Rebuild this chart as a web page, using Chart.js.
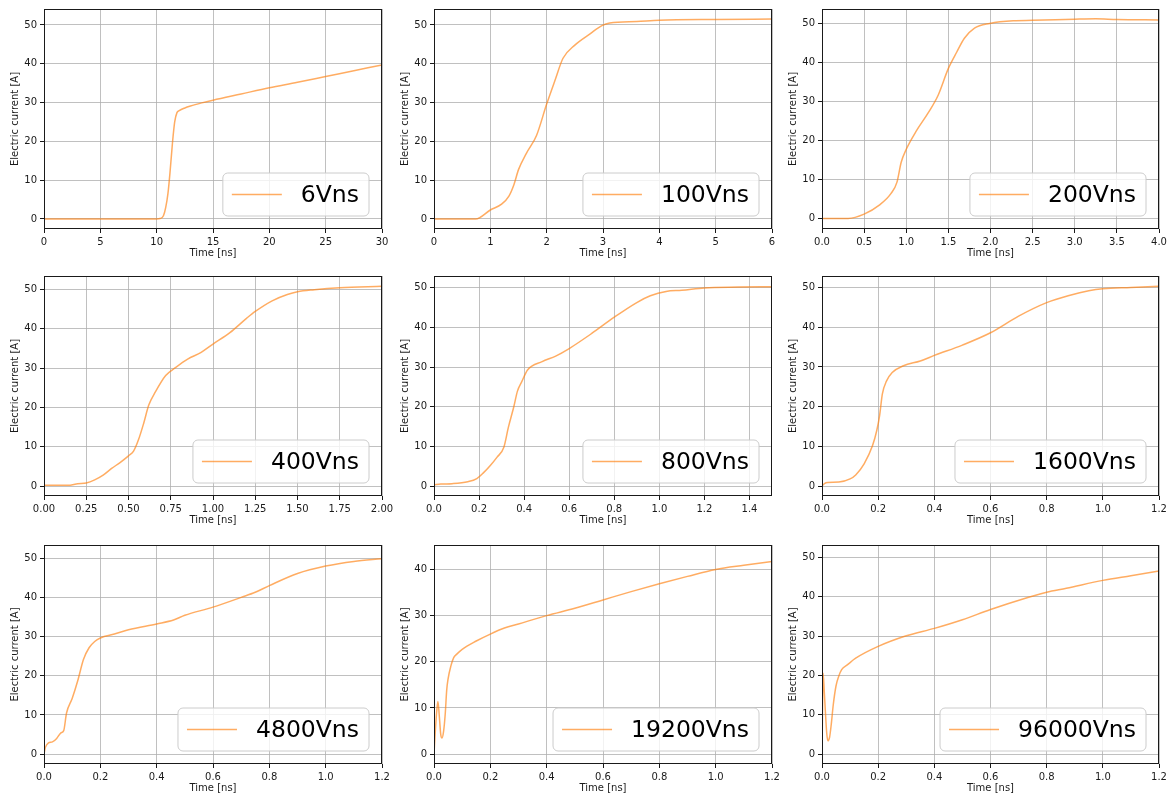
<!DOCTYPE html>
<html>
<head>
<meta charset="utf-8">
<title>Electric current vs time</title>
<script src="https://cdn.jsdelivr.net/npm/chart.js@4/dist/chart.umd.min.js"></script>
<style>
  html, body { margin: 0; padding: 0; background: #fff; overflow: hidden; }
  #grid { position: relative; width: 1175px; height: 798px; }
  #grid canvas { position: absolute; }
</style>
</head>
<body>
<div id="grid"></div>
<script>
// current traces, one pair of arrays per ramp rate
const time6Vns = [0, 10.0, 10.3, 10.6, 10.8, 11.0, 11.2, 11.4, 11.6, 11.8, 12.0, 12.5, 13.0, 14.0, 15.0, 17.5, 20.0, 22.5, 25.0, 27.5, 30.0];
const current6Vns = [0, 0, 0.1, 0.8, 2.9, 6.5, 12.5, 19.5, 25.0, 27.4, 27.9, 28.6, 29.1, 29.9, 30.6, 32.2, 33.8, 35.2, 36.7, 38.2, 39.7];

const time100Vns = [0, 0.74, 1.0, 1.2, 1.33, 1.42, 1.5, 1.64, 1.82, 2.0, 2.15, 2.29, 2.5, 2.77, 2.98, 3.12, 3.6, 4.0, 5.0, 6.0];
const current100Vns = [0, 0, 2.3, 3.8, 5.9, 8.9, 12.7, 16.9, 21.5, 29.6, 35.8, 41.4, 44.8, 47.7, 49.8, 50.5, 50.9, 51.2, 51.4, 51.5];

const time200Vns = [0, 0.31, 0.5, 0.68, 0.82, 0.89, 0.94, 1.0, 1.12, 1.26, 1.38, 1.5, 1.6, 1.69, 1.81, 1.99, 2.27, 2.5, 3.0, 3.25, 3.5, 4.0];
const current200Vns = [0.1, 0.1, 1.2, 3.5, 6.5, 9.4, 14.5, 17.8, 22.5, 27.1, 31.7, 38.5, 42.7, 46.2, 48.8, 50.0, 50.7, 50.8, 51.1, 51.2, 51.0, 50.9];

const time400Vns = [0, 0.14, 0.2, 0.25, 0.3, 0.35, 0.4, 0.45, 0.5, 0.53, 0.56, 0.59, 0.62, 0.66, 0.72, 0.78, 0.85, 0.93, 1.0, 1.1, 1.2, 1.25, 1.35, 1.44, 1.5, 1.6, 1.75, 2.0];
const current400Vns = [0.2, 0.2, 0.6, 0.8, 1.6, 2.8, 4.5, 6.0, 7.7, 8.9, 11.9, 16.0, 20.6, 24.0, 28.1, 30.2, 32.3, 34.0, 36.1, 39.0, 42.7, 44.4, 47.1, 48.7, 49.4, 49.9, 50.4, 50.8];

const time800Vns = [0, 0.03, 0.08, 0.15, 0.19, 0.22, 0.25, 0.28, 0.31, 0.33, 0.355, 0.37, 0.39, 0.415, 0.48, 0.54, 0.6, 0.7, 0.8, 0.9, 0.96, 1.03, 1.1, 1.2, 1.35, 1.5];
const current800Vns = [0.3, 0.5, 0.6, 1.1, 1.9, 3.4, 5.2, 7.3, 9.8, 14.8, 20.2, 23.9, 26.4, 29.3, 31.4, 32.8, 34.7, 38.5, 42.6, 46.3, 48.0, 49.1, 49.4, 50.0, 50.2, 50.3];

const time1600Vns = [0, 0.01, 0.02, 0.06, 0.1, 0.12, 0.15, 0.18, 0.195, 0.205, 0.215, 0.23, 0.25, 0.29, 0.35, 0.4, 0.5, 0.6, 0.7, 0.8, 0.88, 0.95, 1.0, 1.1, 1.2];
const current1600Vns = [0, 0.7, 0.9, 1.0, 1.8, 2.8, 5.6, 10.2, 14.0, 17.7, 23.2, 26.5, 28.6, 30.3, 31.5, 32.9, 35.5, 38.6, 42.8, 46.2, 48.0, 49.2, 49.7, 50.0, 50.3];

const time4800Vns = [0, 0.005, 0.015, 0.03, 0.045, 0.06, 0.07, 0.08, 0.1, 0.12, 0.14, 0.16, 0.18, 0.2, 0.25, 0.3, 0.4, 0.46, 0.5, 0.6, 0.7, 0.75, 0.8, 0.9, 1.0, 1.1, 1.2];
const current4800Vns = [0, 1.7, 2.8, 3.1, 4.0, 5.4, 6.0, 10.5, 14.2, 18.8, 24.2, 27.2, 28.8, 29.7, 30.7, 31.8, 33.3, 34.3, 35.5, 37.6, 40.1, 41.4, 43.1, 46.2, 48.1, 49.3, 50.0];

const time19200Vns = [0, 0.005, 0.01, 0.014, 0.019, 0.024, 0.0285, 0.034, 0.04, 0.045, 0.05, 0.06, 0.07, 0.08, 0.1, 0.15, 0.2, 0.25, 0.3, 0.4, 0.5, 0.6, 0.7, 0.8, 0.9, 1.0, 1.1, 1.2];
const current19200Vns = [0, 5.3, 9.5, 11.4, 8.1, 4.2, 3.5, 4.9, 8.8, 13.8, 16.3, 19.1, 20.9, 21.6, 22.7, 24.5, 26.0, 27.3, 28.2, 30.0, 31.6, 33.4, 35.2, 36.9, 38.5, 40.0, 40.9, 41.7];

const time96000Vns = [0, 0.004, 0.008, 0.012, 0.017, 0.021, 0.027, 0.033, 0.04, 0.05, 0.06, 0.07, 0.09, 0.12, 0.2, 0.3, 0.4, 0.5, 0.6, 0.73, 0.8, 0.87, 1.0, 1.1, 1.2];
const current96000Vns = [0, 20.6, 16.0, 10.9, 5.2, 3.4, 4.3, 7.6, 12.5, 17.4, 19.9, 21.5, 22.7, 24.4, 27.4, 30.1, 32.0, 34.2, 36.8, 39.8, 41.2, 42.2, 44.2, 45.4, 46.6];

// tick labels
const xTicks6Vns = ['0', '5', '10', '15', '20', '25', '30'];
const xTicks100Vns = ['0', '1', '2', '3', '4', '5', '6'];
const xTicks200Vns = ['0.0', '0.5', '1.0', '1.5', '2.0', '2.5', '3.0', '3.5', '4.0'];
const xTicks400Vns = ['0.00', '0.25', '0.50', '0.75', '1.00', '1.25', '1.50', '1.75', '2.00'];
const xTicks800Vns = ['0.0', '0.2', '0.4', '0.6', '0.8', '1.0', '1.2', '1.4'];
const xTicksShort = ['0.0', '0.2', '0.4', '0.6', '0.8', '1.0', '1.2'];
const yTicks50 = ['0', '10', '20', '30', '40', '50'];
const yTicks40 = ['0', '10', '20', '30', '40'];

const FONT = 'DejaVu Sans';
const TEXT = '#1a1a1a';
const LINE = 'rgba(255, 127, 14, 0.65)';

Chart.defaults.font.family = FONT;
Chart.defaults.color = TEXT;

// plot area edges on the page
const colLeft = [44, 434, 822];
const colRight = [382, 772, 1159];
const rowTop = [5, 272, 541];
const rowBottom = [229, 496, 764];
const AXIS_W = 44, AXIS_H = 36, PAD_T = 5, PAD_R = 16;

// frame around the axes plus a boxed legend in the lower right corner
const frameLegend = {
  id: 'frameLegend',
  afterDatasetsDraw(chart) {
    const { ctx, chartArea: a } = chart;
    ctx.save();
    ctx.strokeStyle = TEXT;
    ctx.lineWidth = 1;
    const l = Math.round(a.left) + 0.5, t = Math.round(a.top) + 0.5;
    const r = Math.round(a.right) - 0.5, b = Math.round(a.bottom) - 0.5;
    ctx.strokeRect(l, t, r - l, b - t);

    const ds = chart.data.datasets[0];
    ctx.font = `23.5px "${FONT}"`;
    const tw = ctx.measureText(ds.label).width;
    const w = 9 + 50 + 19 + tw + 10, h = 43;
    const x = a.right - 13 - w, y = a.bottom - 13 - h;
    ctx.beginPath();
    ctx.roundRect(x, y, w, h, 5);
    ctx.fillStyle = 'rgba(255, 255, 255, 0.8)';
    ctx.fill();
    ctx.strokeStyle = '#cccccc';
    ctx.stroke();

    ctx.beginPath();
    ctx.moveTo(x + 9, y + h / 2);
    ctx.lineTo(x + 59, y + h / 2);
    ctx.strokeStyle = ds.borderColor;
    ctx.lineWidth = ds.borderWidth;
    ctx.stroke();

    ctx.fillStyle = '#000';
    ctx.textBaseline = 'alphabetic';
    ctx.fillText(ds.label, x + 78, y + h / 2 + 7.5);
    ctx.restore();
  }
};

function addPanel(row, col, label, times, currents, xTicks, yTicks, yMin, yMax) {
  const L = colLeft[col], R = colRight[col], T = rowTop[row], B = rowBottom[row];
  const canvas = document.createElement('canvas');
  canvas.width = AXIS_W + (R - L) + PAD_R;
  canvas.height = PAD_T + (B - T) + AXIS_H;
  canvas.style.left = (L - AXIS_W) + 'px';
  canvas.style.top = (T - PAD_T) + 'px';
  document.getElementById('grid').appendChild(canvas);

  const xVals = xTicks.map(parseFloat);
  const yVals = yTicks.map(parseFloat);
  const grid = { color: '#b0b0b0', lineWidth: 0.8, tickColor: TEXT, tickLength: 4, tickWidth: 1 };

  new Chart(canvas.getContext('2d'), {
    type: 'line',
    data: {
      datasets: [{
        label: label,
        data: times.map((t, i) => ({ x: t, y: currents[i] })),
        borderColor: LINE,
        borderWidth: 1.5,
        pointRadius: 0,
        fill: false,
        cubicInterpolationMode: 'monotone'
      }]
    },
    options: {
      responsive: false,
      animation: false,
      devicePixelRatio: 1,
      events: [],
      layout: { padding: { top: PAD_T, right: PAD_R, left: 0, bottom: 0 } },
      plugins: { legend: { display: false }, tooltip: { enabled: false } },
      scales: {
        x: {
          type: 'linear',
          min: xVals[0],
          max: Math.max(xVals[xVals.length - 1], times[times.length - 1]),
          afterBuildTicks: s => { s.ticks = xVals.map(v => ({ value: v })); },
          afterFit: s => { s.height = AXIS_H; },
          ticks: { callback: (v, i) => xTicks[i], autoSkip: false, maxRotation: 0, padding: 3, font: { size: 10 } },
          grid: grid,
          border: { display: false },
          title: { display: true, text: 'Time [ns]', font: { size: 10 }, padding: { top: 0, bottom: 6 } }
        },
        y: {
          min: yMin,
          max: yMax,
          afterBuildTicks: s => { s.ticks = yVals.map(v => ({ value: v })); },
          afterFit: s => { s.width = AXIS_W; },
          ticks: { callback: (v, i) => yTicks[i], autoSkip: false, padding: 3, font: { size: 10 } },
          grid: grid,
          border: { display: false },
          title: { display: true, text: 'Electric current [A]', font: { size: 10 }, padding: { top: 9, bottom: 0 } }
        }
      }
    },
    plugins: [frameLegend]
  });
}

addPanel(0, 0, '6Vns', time6Vns, current6Vns, xTicks6Vns, yTicks50, -2.6, 54.1);
addPanel(0, 1, '100Vns', time100Vns, current100Vns, xTicks100Vns, yTicks50, -2.6, 54.1);
addPanel(0, 2, '200Vns', time200Vns, current200Vns, xTicks200Vns, yTicks50, -2.6, 53.7);
addPanel(1, 0, '400Vns', time400Vns, current400Vns, xTicks400Vns, yTicks50, -2.5, 53.4);
addPanel(1, 1, '800Vns', time800Vns, current800Vns, xTicks800Vns, yTicks50, -2.5, 53.0);
addPanel(1, 2, '1600Vns', time1600Vns, current1600Vns, xTicksShort, yTicks50, -2.5, 52.9);
addPanel(2, 0, '4800Vns', time4800Vns, current4800Vns, xTicksShort, yTicks50, -2.55, 53.5);
addPanel(2, 1, '19200Vns', time19200Vns, current19200Vns, xTicksShort, yTicks40, -2.15, 45.3);
addPanel(2, 2, '96000Vns', time96000Vns, current96000Vns, xTicksShort, yTicks50, -2.5, 53.2);
</script>
</body>
</html>
